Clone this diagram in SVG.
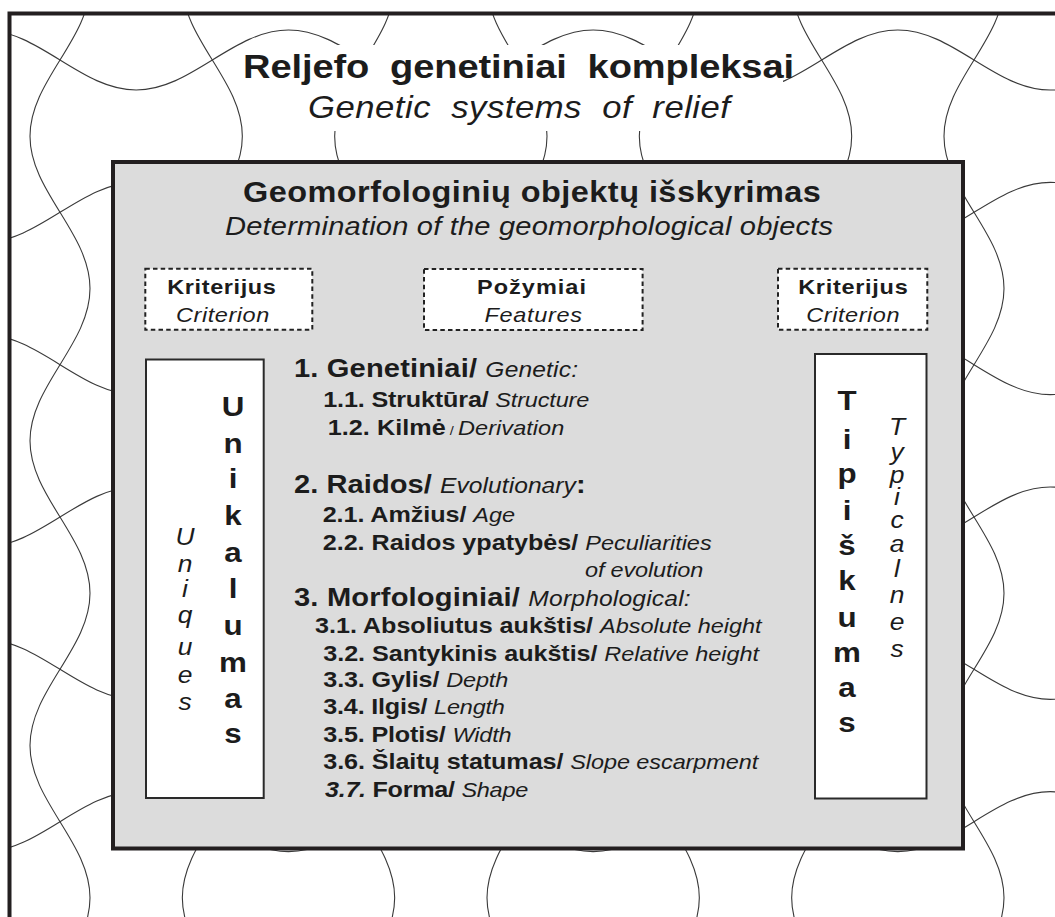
<svg xmlns="http://www.w3.org/2000/svg" width="1055" height="917" viewBox="0 0 1055 917">
<defs>
<style>
.wave{fill:none;stroke:#3a3a3a;stroke-width:1.1}
.t{font-family:"Liberation Sans",Arial,sans-serif;fill:#1c1c1c}
.b{font-weight:bold}
.i{font-style:italic}
.bi{font-weight:bold;font-style:italic}
.dash{fill:#fff;stroke:#222;stroke-width:2;stroke-dasharray:4.5 3.2}
.wbox{fill:#fff;stroke:#2a2a2a;stroke-width:2}
.m1{font-size:26px}
.m2{font-size:22px}
.s1{font-size:22.5px}
.s2{font-size:21px}
.vl{font-size:28px;font-weight:bold;text-anchor:middle}
.vi{font-size:24px;font-style:italic;text-anchor:middle}
</style>
<path id="rowA" d="M-16.17,-30 C39.19,-30 80.81,30 136.17,30 S233.14,-30 288.5,-30 S385.47,30 440.83,30 S537.81,-30 593.17,-30 S690.14,30 745.5,30 S842.47,-30 897.83,-30 S994.81,30 1050.17,30 S1147.14,-30 1202.5,-30"/>
<path id="rowB" d="M-16.17,30 C39.19,30 80.81,-30 136.17,-30 S233.14,30 288.5,30 S385.47,-30 440.83,-30 S537.81,30 593.17,30 S690.14,-30 745.5,-30 S842.47,30 897.83,30 S994.81,-30 1050.17,-30 S1147.14,30 1202.5,30"/>
<clipPath id="frameClip"><rect x="9" y="13" width="1046" height="904"/></clipPath>
</defs>
<rect width="1055" height="917" fill="#fff"/>

<g id="background-pattern" class="wave" clip-path="url(#frameClip)">
<use href="#rowA" transform="translate(0,60)"/>
<use href="#rowB" transform="translate(0,212.33)"/>
<use href="#rowA" transform="translate(0,364.67)"/>
<use href="#rowB" transform="translate(0,517)"/>
<use href="#rowA" transform="translate(0,669.33)"/>
<use href="#rowB" transform="translate(0,821.67)"/>
<use href="#rowB" transform="matrix(0,1,1,0,60,0)"/>
<use href="#rowA" transform="matrix(0,1,1,0,212.33,0)"/>
<use href="#rowB" transform="matrix(0,1,1,0,364.67,0)"/>
<use href="#rowA" transform="matrix(0,1,1,0,517,0)"/>
<use href="#rowB" transform="matrix(0,1,1,0,669.33,0)"/>
<use href="#rowA" transform="matrix(0,1,1,0,821.67,0)"/>
<use href="#rowB" transform="matrix(0,1,1,0,974,0)"/>
</g>
<rect id="title-backdrop" x="330" y="45" width="453" height="86" fill="#fff"/>
<rect id="outer-frame" x="9.5" y="13.5" width="1060" height="920" fill="none" stroke="#231f20" stroke-width="4"/>

<g id="title">
<text class="t b" transform="translate(243,78) scale(1.12,1)" font-size="34" xml:space="preserve" textLength="492" lengthAdjust="spacing">Reljefo  genetiniai  kompleksai</text>
<text class="t i" transform="translate(308,118) scale(1.12,1)" font-size="31" xml:space="preserve" textLength="376.8" lengthAdjust="spacing">Genetic  systems  of  relief</text>
</g>

<g id="main-panel">
<rect x="113" y="162" width="850" height="686.5" fill="#dcdcdc" stroke="#231f20" stroke-width="4"/>
<text class="t b" transform="translate(243,202) scale(1.12,1)" font-size="29" textLength="516" lengthAdjust="spacing">Geomorfologinių objektų išskyrimas</text>
<text class="t i" transform="translate(225,235) scale(1.12,1)" font-size="26" textLength="543" lengthAdjust="spacing">Determination of the geomorphological objects</text>
</g>

<g id="criterion-left">
<rect class="dash" x="145.3" y="268.8" width="167" height="61"/>
<text class="t b" transform="translate(167.3,293.5) scale(1.12,1)" font-size="21" textLength="97" lengthAdjust="spacing">Kriterijus</text>
<text class="t i" transform="translate(176,321.7) scale(1.12,1)" font-size="21" textLength="83.3" lengthAdjust="spacing">Criterion</text>
</g>

<g id="features">
<rect class="dash" x="424" y="269" width="218.6" height="61"/>
<text class="t b" transform="translate(477,293.5) scale(1.12,1)" font-size="21" textLength="97.3" lengthAdjust="spacing">Požymiai</text>
<text class="t i" transform="translate(484.5,321.7) scale(1.12,1)" font-size="21" textLength="87" lengthAdjust="spacing">Features</text>
</g>

<g id="criterion-right">
<rect class="dash" x="778" y="268.8" width="149.3" height="61"/>
<text class="t b" transform="translate(798.2,293.5) scale(1.12,1)" font-size="21" textLength="97.8" lengthAdjust="spacing">Kriterijus</text>
<text class="t i" transform="translate(806.3,321.7) scale(1.12,1)" font-size="21" textLength="83.3" lengthAdjust="spacing">Criterion</text>
</g>

<g id="uniqueness">
<rect class="wbox" x="146" y="359.5" width="117.7" height="438.5"/>
<g transform="translate(233,0) scale(1.12,1)">
<text class="t vl" x="0" y="415.7">U</text>
<text class="t vl" x="0" y="453">n</text>
<text class="t vl" x="0" y="488">i</text>
<text class="t vl" x="0" y="525">k</text>
<text class="t vl" x="0" y="561.7">a</text>
<text class="t vl" x="0" y="598">l</text>
<text class="t vl" x="0" y="635">u</text>
<text class="t vl" x="0" y="672">m</text>
<text class="t vl" x="0" y="708">a</text>
<text class="t vl" x="0" y="743">s</text>
</g>
<g transform="translate(185,0) scale(1.1,1)">
<text class="t vi" x="0" y="545">U</text>
<text class="t vi" x="0" y="571.7">n</text>
<text class="t vi" x="0" y="596.7">i</text>
<text class="t vi" x="0" y="623.3">q</text>
<text class="t vi" x="0" y="655">u</text>
<text class="t vi" x="0" y="683.3">e</text>
<text class="t vi" x="0" y="710">s</text>
</g>
</g>

<g id="typicalness">
<rect class="wbox" x="815" y="354" width="111.5" height="444.5"/>
<g transform="translate(847,0) scale(1.12,1)">
<text class="t vl" x="0" y="410">T</text>
<text class="t vl" x="0" y="449">i</text>
<text class="t vl" x="0" y="483">p</text>
<text class="t vl" x="0" y="520">i</text>
<text class="t vl" x="0" y="555">š</text>
<text class="t vl" x="0" y="590">k</text>
<text class="t vl" x="0" y="626.7">u</text>
<text class="t vl" x="0" y="661.7">m</text>
<text class="t vl" x="0" y="696.7">a</text>
<text class="t vl" x="0" y="731.7">s</text>
</g>
<g transform="translate(897,0) scale(1.1,1)">
<text class="t vi" x="0" y="435">T</text>
<text class="t vi" x="0" y="460">y</text>
<text class="t vi" x="0" y="483.3">p</text>
<text class="t vi" x="0" y="505">i</text>
<text class="t vi" x="0" y="528.3">c</text>
<text class="t vi" x="0" y="551.7">a</text>
<text class="t vi" x="0" y="576.7">l</text>
<text class="t vi" x="0" y="603.3">n</text>
<text class="t vi" x="0" y="630">e</text>
<text class="t vi" x="0" y="656.7">s</text>
</g>
</g>

<g id="feature-list">
<text class="t" transform="translate(294,377) scale(1.12,1)" textLength="253.6" lengthAdjust="spacing"><tspan class="b m1">1. Genetiniai/ </tspan><tspan class="i m2">Genetic:</tspan></text>
<text class="t" transform="translate(323.3,406.7) scale(1.12,1)" textLength="237.5" lengthAdjust="spacing"><tspan class="b s1">1.1. Struktūra/ </tspan><tspan class="i s2">Structure</tspan></text>
<text class="t" transform="translate(327.7,435) scale(1.12,1)" textLength="211.3" lengthAdjust="spacing"><tspan class="b s1">1.2. Kilmė</tspan><tspan font-size="13"> / </tspan><tspan class="i s2">Derivation</tspan></text>
<text class="t" transform="translate(294,492.7) scale(1.12,1)" textLength="260.4" lengthAdjust="spacing"><tspan class="b m1">2. Raidos/ </tspan><tspan class="i m2">Evolutionary</tspan><tspan class="b m1">:</tspan></text>
<text class="t" transform="translate(322.7,522.3) scale(1.12,1)" textLength="171.7" lengthAdjust="spacing"><tspan class="b s1">2.1. Amžius/ </tspan><tspan class="i s2">Age</tspan></text>
<text class="t" transform="translate(322.7,550) scale(1.12,1)" textLength="347.3" lengthAdjust="spacing"><tspan class="b s1">2.2. Raidos ypatybės/ </tspan><tspan class="i s2">Peculiarities</tspan></text>
<text class="t i s2" transform="translate(585,576.7) scale(1.12,1)" textLength="105.6" lengthAdjust="spacing">of evolution</text>
<text class="t" transform="translate(294,606) scale(1.12,1)" textLength="354.2" lengthAdjust="spacing"><tspan class="b m1">3. Morfologiniai/ </tspan><tspan class="i m2">Morphological:</tspan></text>
<text class="t" transform="translate(315,633.3) scale(1.12,1)" textLength="398.8" lengthAdjust="spacing"><tspan class="b s1">3.1. Absoliutus aukštis/ </tspan><tspan class="i s2">Absolute height</tspan></text>
<text class="t" transform="translate(323.3,660.7) scale(1.12,1)" textLength="389" lengthAdjust="spacing"><tspan class="b s1">3.2. Santykinis aukštis/ </tspan><tspan class="i s2">Relative height</tspan></text>
<text class="t" transform="translate(323.3,687.3) scale(1.12,1)" textLength="165.2" lengthAdjust="spacing"><tspan class="b s1">3.3. Gylis/ </tspan><tspan class="i s2">Depth</tspan></text>
<text class="t" transform="translate(323.3,714.3) scale(1.12,1)" textLength="162.2" lengthAdjust="spacing"><tspan class="b s1">3.4. Ilgis/ </tspan><tspan class="i s2">Length</tspan></text>
<text class="t" transform="translate(323.3,741.7) scale(1.12,1)" textLength="168.2" lengthAdjust="spacing"><tspan class="b s1">3.5. Plotis/ </tspan><tspan class="i s2">Width</tspan></text>
<text class="t" transform="translate(323.3,769.3) scale(1.12,1)" textLength="388.4" lengthAdjust="spacing"><tspan class="b s1">3.6. Šlaitų statumas/ </tspan><tspan class="i s2">Slope escarpment</tspan></text>
<text class="t" transform="translate(325,796.7) scale(1.12,1)" textLength="181.5" lengthAdjust="spacing"><tspan class="bi s1">3.7.</tspan><tspan class="b s1"> Forma/ </tspan><tspan class="i s2">Shape</tspan></text>
</g>
</svg>
